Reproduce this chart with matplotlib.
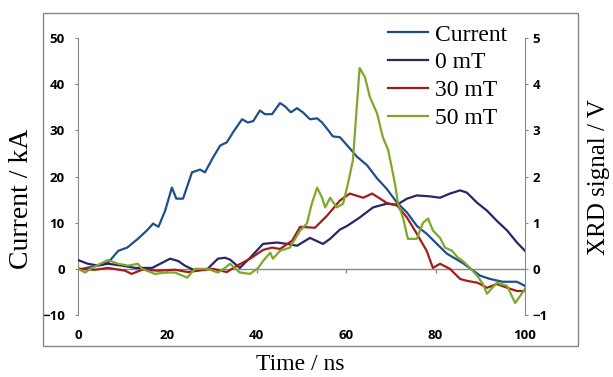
import matplotlib.pyplot as plt
from matplotlib.patches import Rectangle

# discharge current (kA) vs time (ns)
t_cur = [0, 1, 3.8, 6.7, 9, 11, 13.4, 15.4, 16.8, 18, 19.5, 21, 22, 23.5, 25.5, 27.3,
         28.4, 30.2, 31.8, 33.3, 34.7, 36.7, 38, 39.2, 40.7, 41.8, 43.4, 45.2, 46.3,
         47.6, 49, 50.3, 51.9, 53.5, 54.6, 56, 57, 58.6, 60.8, 62.4, 64.7, 66.9, 69,
         71.4, 73.6, 75.8, 78, 80.3, 82.5, 86, 90, 92.2, 95, 98.2, 100]
current = [0, 0, 0.6, 1.3, 3.9, 4.6, 6.5, 8.3, 9.8, 9.1, 12.6, 17.6, 15.2, 15.2, 20.9,
           21.5, 20.9, 24.1, 26.7, 27.4, 29.6, 32.4, 31.7, 32, 34.3, 33.5, 33.5, 35.9,
           35.2, 33.9, 34.8, 33.9, 32.4, 32.6, 31.7, 30, 28.7, 28.5, 26.1, 24.3, 22.4,
           19.6, 17.4, 14.3, 12.2, 9.3, 7.6, 5.4, 3.3, 1.3, -1.5, -2.2, -2.8, -2.8, -3.7]

# XRD signals (V)
t_0mt = [0, 2.2, 4.5, 6.7, 9.8, 12.8, 16.6, 18.8, 20.6, 22.4, 23.9, 26.2, 29, 31.3,
         32.9, 34, 36.2, 38.5, 41.4, 44.5, 46.8, 49, 51.9, 54.8, 56.4, 58.6, 60.2, 63,
         66, 69, 71.4, 73.6, 75.8, 78.7, 81, 83.2, 85.5, 87, 89.3, 91.5, 93.7, 96, 98.2, 100]
xrd_0mt = [0.19, 0.11, 0.07, 0.11, 0.07, 0.02, 0.02, 0.13, 0.22, 0.17, 0.07, -0.04, 0,
           0.22, 0.24, 0.2, 0.02, 0.24, 0.54, 0.57, 0.54, 0.5, 0.67, 0.54, 0.65, 0.85,
           0.93, 1.11, 1.33, 1.41, 1.39, 1.52, 1.59, 1.57, 1.54, 1.63, 1.7, 1.65, 1.43,
           1.26, 1.04, 0.83, 0.57, 0.39]

t_30mt = [0, 3.8, 6.7, 10.5, 12, 14.3, 18, 21.7, 24.6, 26.8, 30.2, 33.3, 35.6, 38.5,
          41.4, 43.4, 45.2, 47.9, 49.7, 53, 55.7, 58.6, 60.8, 63.8, 65.8, 67.6, 69,
          71.4, 73.6, 75.8, 78, 79.4, 81, 83.2, 85.5, 87, 89.3, 90, 91.5, 93.7, 96, 98.2, 100]
xrd_30mt = [0, -0.02, 0.02, -0.04, -0.11, -0.02, -0.04, -0.02, -0.07, -0.04, 0, -0.07,
            0.07, 0.22, 0.41, 0.46, 0.43, 0.61, 0.91, 0.89, 1.15, 1.48, 1.63, 1.54, 1.63,
            1.52, 1.43, 1.37, 1.11, 0.76, 0.39, 0.02, 0.11, 0, -0.22, -0.26, -0.3, -0.33,
            -0.41, -0.33, -0.41, -0.48, -0.48]

t_50mt = [0, 1.6, 3.1, 6.7, 9, 11.2, 13.4, 14.3, 17.2, 19.5, 21.7, 24.4, 26.2, 29, 31.3,
          32.9, 34, 36.2, 38.5, 40.3, 41.4, 43, 43.6, 45.2, 47.4, 49.7, 51.2, 52.3, 53.5,
          54.6, 55.3, 56.4, 57.9, 59.3, 60.4, 61.5, 63, 64.2, 65.3, 66.9, 68.2, 69.4,
          70.9, 71.6, 72.7, 73.8, 75.8, 77.2, 78.3, 79.4, 81, 82.1, 83.7, 85, 86.1, 87.7,
          89.3, 90.6, 91.5, 93.7, 96, 97.8, 98.9, 100]
xrd_50mt = [0, -0.08, 0.02, 0.19, 0.11, 0.07, 0.11, 0, -0.11, -0.08, -0.08, -0.19, 0, 0,
            -0.08, 0.02, 0.11, -0.08, -0.11, 0.02, 0.17, 0.35, 0.22, 0.39, 0.46, 0.83,
            0.98, 1.41, 1.76, 1.54, 1.33, 1.54, 1.33, 1.41, 1.85, 2.35, 4.35, 4.15, 3.72,
            3.37, 2.85, 2.57, 1.85, 1.41, 1.11, 0.65, 0.65, 1.0, 1.09, 0.83, 0.67, 0.46,
            0.39, 0.24, 0.17, 0.02, -0.15, -0.33, -0.54, -0.3, -0.37, -0.74, -0.59, -0.43]

labels = ['Current', '0 mT', '30 mT', '50 mT']
colors = ['#1f4e8c', '#2b2466', '#a61c1c', '#7ea82a']

serif = 'Liberation Serif'
tickfont = 'Open Sans'
grey = '#888888'

W, H = 613, 377
fig = plt.figure(figsize=(W / 100, H / 100), dpi=100)
ax = fig.add_axes([78 / W, 62 / H, 447 / W, 277 / H])
ax2 = ax.twinx()

# outer chart frame
fig.patches.append(Rectangle((43 / W, 31 / H), 535 / W, 333 / H, transform=fig.transFigure,
                             fill=False, edgecolor=grey, linewidth=1.0))

lines = []
lines += ax.plot(t_cur, current, color=colors[0], lw=1.6)
lines += ax2.plot(t_0mt, xrd_0mt, color=colors[1], lw=1.6)
lines += ax2.plot(t_30mt, xrd_30mt, color=colors[2], lw=1.6)
lines += ax2.plot(t_50mt, xrd_50mt, color=colors[3], lw=1.6)

ax.set_xlim(0, 100)
ax.set_ylim(-10, 50)
ax2.set_ylim(-1, 5)
ax.set_yticks(range(-10, 51, 10))
ax2.set_yticks(range(-1, 6))

for a in (ax, ax2):
    a.patch.set_visible(False)
    a.spines['top'].set_visible(False)
    a.spines['bottom'].set_visible(False)
ax.spines['right'].set_visible(False)
ax2.spines['left'].set_visible(False)
ax.spines['left'].set_color(grey)
ax2.spines['right'].set_color(grey)

# x axis line crosses at zero, labels stay at the bottom
ax.axhline(0, color=grey, lw=1.0, zorder=0)
ax.set_xticks(range(0, 101, 20))
ax.tick_params(axis='x', length=0, pad=10)
ax.vlines([20, 40, 60, 80], -1.0, 0, color=grey, lw=1.0)

ax.tick_params(axis='y', direction='out', length=2.5, color=grey, pad=7)
ax2.tick_params(axis='y', direction='out', length=2.5, color=grey, pad=3)
for lab in ax.get_xticklabels() + ax.get_yticklabels() + ax2.get_yticklabels():
    lab.set_fontfamily(tickfont)
    lab.set_fontsize(9.5)
    lab.set_fontweight('bold')

# axis titles, placed by their centres (pixel positions converted to axes fractions)
ax.set_xlabel('Time / ns', fontfamily=serif, fontsize=17, va='center')
ax.xaxis.set_label_coords((300 - 78) / 447, -(365 - 315) / 277)
ax.set_ylabel('Current / kA', fontfamily=serif, fontsize=20, va='center', ha='center')
ax.yaxis.set_label_coords((22 - 78) / 447, (315 - 199) / 277)
ax2.set_ylabel('XRD signal / V', fontfamily=serif, fontsize=18, va='center', ha='center')
ax2.yaxis.set_label_coords((599 - 78) / 447, (315 - 177) / 277)

fig.legend(lines, labels, loc='upper left', bbox_to_anchor=(388 / W, 1 - 24 / H),
           frameon=False, prop={'family': serif, 'size': 17}, handlelength=1.7,
           handletextpad=0.3, labelspacing=0.27, borderpad=0, borderaxespad=0)

fig.savefig('out.png', dpi=100)
